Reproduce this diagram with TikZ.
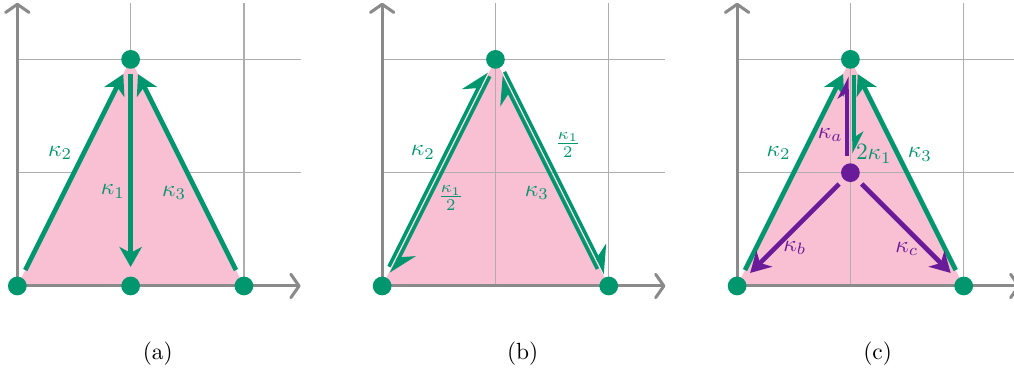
\documentclass[tikz,border=0pt]{standalone}
\usetikzlibrary{arrows.meta,calc}
\definecolor{tgreen}{HTML}{00966E}
\definecolor{tpurple}{HTML}{6A1B9A}
\definecolor{tpink}{HTML}{F9BFD3}
\definecolor{gridgray}{HTML}{AEAEAE}
\definecolor{axisgray}{HTML}{8A8A8A}
\tikzset{
  gridline/.style={draw=gridgray, line width=0.55pt},
  axisline/.style={draw=axisgray, line width=1.3pt, -{Straight Barb[length=3.5pt,width=10pt,round]}},
  gdot/.style={circle, fill=tgreen, inner sep=0pt, minimum size=8pt},
  pdot/.style={circle, fill=tpurple, inner sep=0pt, minimum size=8pt},
  garrow/.style={draw=tgreen, line width=2pt, -{Stealth[length=8.5pt,width=9.5pt,inset=2.5pt]}},
  parrow/.style={draw=tpurple, line width=2pt, -{Stealth[length=8.5pt,width=9.5pt,inset=2.5pt]}},
  gharp/.style={draw=tgreen, line width=1.5pt, -{Stealth[harpoon,length=10pt,width=12pt,inset=3.5pt]}},
  gvharp/.style={draw=tgreen, line width=1.7pt, -{Stealth[harpoon,length=8pt,width=8pt,inset=2.5pt]}},
  pvharp/.style={draw=tpurple, line width=1.7pt, -{Stealth[harpoon,length=8pt,width=8pt,inset=2.5pt]}},
  glab/.style={text=tgreen, inner sep=0pt},
  plab/.style={text=tpurple, inner sep=0pt},
  caplab/.style={inner sep=0pt},
  tri/.style={fill=tpink, draw=none},
}
\begin{document}
\begin{tikzpicture}[x=1.7cm,y=1.7cm]
\useasboundingbox (-0.153,-0.786) rectangle (8.797,2.524);
\clip (-0.153,-0.786) rectangle (8.797,2.524);

% ---------------- panel (a)
\begin{scope}
  \draw[gridline] (0,1) -- (2.5,1) (0,2) -- (2.5,2) (1,0) -- (1,2.5) (2,0) -- (2,2.5);
  \fill[tri] (0,0) -- (1,2) -- (2,0) -- cycle;
  \draw[axisline] (0,0) -- (2.5,0);
  \draw[axisline] (0,0) -- (0,2.5);
  \coordinate (aA) at (0,0);
  \coordinate (aT) at (1,2);
  \coordinate (aB) at (2,0);
  \coordinate (aM) at (1,0);
  \draw[garrow] ($(aA)!0.07!(aT)$) -- ($(aA)!0.935!(aT)$);
  \draw[garrow] ($(aB)!0.07!(aT)$) -- ($(aB)!0.935!(aT)$);
  \draw[garrow] ($(aT)!0.065!(aM)$) -- ($(aT)!0.916!(aM)$);
  \node[gdot] (aAd) at (aA) {};
  \node[gdot] (aTd) at (aT) {};
  \node[gdot] (aBd) at (aB) {};
  \node[gdot] (aMd) at (aM) {};
  \node[glab] (ak2) at (0.377,1.174) {$\kappa_2$};
  \node[glab] (ak1) at (0.844,0.834) {$\kappa_1$};
  \node[glab] (ak3) at (1.383,0.82) {$\kappa_3$};
  \node[caplab] (acap) at (1.24,-0.60) {(a)};
\end{scope}

% ---------------- panel (b)
\begin{scope}[shift={(3.22,0)}]
  \fill[tri] (0,0) -- (1,2) -- (2,0) -- cycle;
  \draw[gridline] (0,1) -- (2.5,1) (0,2) -- (2.5,2) (1,0) -- (1,2.5) (2,0) -- (2,2.5);
  \draw[axisline] (0,0) -- (2.5,0);
  \draw[axisline] (0,0) -- (0,2.5);
  \coordinate (bA) at (0,0);
  \coordinate (bT) at (1,2);
  \coordinate (bB) at (2,0);
  \draw[gharp] ($(bA)!0.08!(bT)+(-0.02,0.01)$) -- ($(bA)!0.94!(bT)+(-0.02,0.01)$);
  \draw[gharp] ($(bA)!0.93!(bT)+(0.02,-0.01)$) -- ($(bA)!0.06!(bT)+(0.02,-0.01)$);
  \draw[gharp] ($(bT)!0.06!(bB)+(0.02,0.01)$) -- ($(bT)!0.95!(bB)+(0.02,0.01)$);
  \draw[gharp] ($(bT)!0.92!(bB)+(-0.02,-0.01)$) -- ($(bT)!0.07!(bB)+(-0.02,-0.01)$);
  \node[gdot] (bAd) at (bA) {};
  \node[gdot] (bTd) at (bT) {};
  \node[gdot] (bBd) at (bB) {};
  \node[glab] (bk2) at (0.36,1.18) {$\kappa_2$};
  \node[glab] (bk1l) at (0.606,0.775) {$\frac{\kappa_1}{2}$};
  \node[glab] (bk1r) at (1.639,1.245) {$\frac{\kappa_1}{2}$};
  \node[glab] (bk3) at (1.365,0.82) {$\kappa_3$};
  \node[caplab] (bcap) at (1.24,-0.60) {(b)};
\end{scope}

% ---------------- panel (c)
\begin{scope}[shift={(6.353,0)}]
  \fill[tri] (0,0) -- (1,2) -- (2,0) -- cycle;
  \draw[gridline] (0,1) -- (2.5,1) (0,2) -- (2.5,2) (1,0) -- (1,2.5) (2,0) -- (2,2.5);
  \draw[axisline] (0,0) -- (2.5,0);
  \draw[axisline] (0,0) -- (0,2.5);
  \coordinate (cA) at (0,0);
  \coordinate (cT) at (1,2);
  \coordinate (cB) at (2,0);
  \coordinate (cC) at (1,1);
  \draw[garrow] ($(cA)!0.07!(cT)$) -- ($(cA)!0.935!(cT)$);
  \draw[garrow] ($(cB)!0.07!(cT)$) -- ($(cB)!0.935!(cT)$);
  \draw[gvharp] ($(cT)+(0.032,-0.135)$) -- ($(cC)+(0.032,0.17)$);
  \draw[pvharp] ($(cC)+(-0.03,0.15)$) -- ($(cT)+(-0.03,-0.152)$);
  \draw[parrow] ($(cC)!0.1!(cA)$) -- ($(cC)!0.885!(cA)$);
  \draw[parrow] ($(cC)!0.1!(cB)$) -- ($(cC)!0.885!(cB)$);
  \node[gdot] (cAd) at (cA) {};
  \node[gdot] (cTd) at (cT) {};
  \node[gdot] (cBd) at (cB) {};
  \node[pdot] (cCd) at (cC) {};
  \node[glab] (ck2) at (0.366,1.174) {$\kappa_2$};
  \node[glab] (ck3) at (1.613,1.16) {$\kappa_3$};
  \node[glab] (ck1) at (1.207,1.165) {$2\kappa_1$};
  \node[plab] (cka) at (0.823,1.335) {$\kappa_a$};
  \node[plab] (ckb) at (0.51,0.335) {$\kappa_b$};
  \node[plab] (ckc) at (1.498,0.327) {$\kappa_c$};
  \node[caplab] (ccap) at (1.24,-0.60) {(c)};
\end{scope}
\end{tikzpicture}
\end{document}
